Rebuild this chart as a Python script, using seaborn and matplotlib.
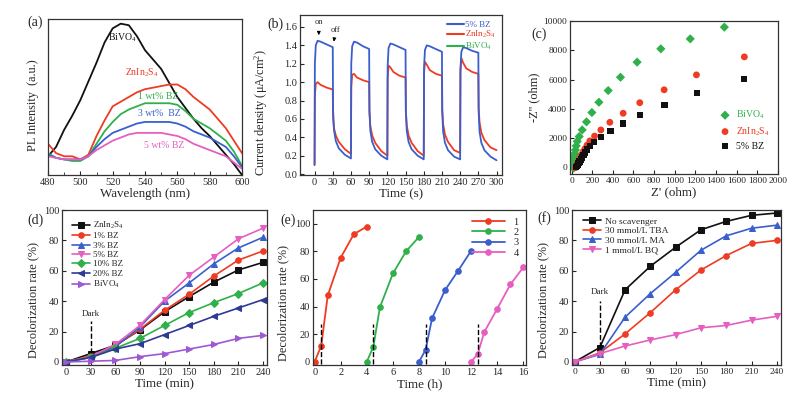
"""
plot.py
-------
Six-panel photocatalysis figure: PL spectra, photocurrent, EIS Nyquist,
decolorization kinetics, cycling runs and scavenger tests.
"""

import matplotlib
matplotlib.use("Agg")
import matplotlib.pyplot as plt
from matplotlib.lines import Line2D
import numpy as np
import pandas as pd
import seaborn as sns

W, H = 807, 398

# ---- (a) PL spectra -------------------------------------------------------
pl_wavelength = [480, 485, 490, 495, 500, 505, 510, 515, 520, 525, 530, 535, 540,
                 545, 550, 555, 560, 565, 570, 575, 580, 585, 590, 595, 600]
pl_bivo4 = [12, 18, 29, 38, 48, 60, 72, 85, 94, 97, 96, 89, 80,
            74, 68, 59, 50, 43, 36, 30, 25, 19, 13, 7, 0]
pl_znin2s4 = [20, 14, 12, 12, 10, 13, 25, 35, 44, 47, 50, 53, 55,
              56, 57, 58, 58, 55, 50, 46, 42, 36, 30, 22, 14]
pl_1bz = [14, 11, 10, 9, 9, 12, 20, 28, 34, 39, 42, 44, 46,
          46, 46, 46, 45, 41, 36, 33, 30, 26, 22, 15, 6]
pl_3bz = [13, 11, 10, 10, 10, 12, 18, 23, 27, 29, 31, 33, 34,
          34, 34, 34, 33, 31, 28, 26, 24, 21, 18, 12, 5]
pl_5bz = [12, 11, 10, 10, 10, 12, 16, 19, 22, 24, 26, 27, 27,
          27, 27, 26, 25, 23, 20, 18, 16, 14, 12, 8, 4]

# ---- (b) transient photocurrent ------------------------------------------
cycle_starts = [0, 60, 120, 180, 240]
cycle_offsets = [0, 0.5, 2, 5, 10, 20, 30, 30.5, 32, 35, 40, 50]
end_time = 300
current_5bz = [0.10, 1.20, 1.40, 1.45, 1.44, 1.41, 1.38, 0.70, 0.48, 0.36, 0.28, 0.21,
               0.17, 1.20, 1.39, 1.44, 1.43, 1.39, 1.36, 0.70, 0.47, 0.35, 0.27, 0.20,
               0.16, 1.18, 1.37, 1.42, 1.41, 1.38, 1.35, 0.69, 0.47, 0.35, 0.27, 0.20,
               0.16, 1.16, 1.35, 1.40, 1.39, 1.36, 1.33, 0.68, 0.46, 0.34, 0.26, 0.19,
               0.16, 1.14, 1.33, 1.38, 1.37, 1.34, 1.32, 0.68, 0.46, 0.34, 0.26, 0.19,
               0.15]
current_znin2s4 = [0.10, 0.85, 0.98, 1.00, 0.97, 0.94, 0.92, 0.62, 0.50, 0.42, 0.35, 0.27,
                   0.22, 0.95, 1.08, 1.09, 1.05, 1.02, 1.00, 0.66, 0.52, 0.42, 0.34, 0.25,
                   0.20, 1.05, 1.18, 1.16, 1.11, 1.07, 1.05, 0.68, 0.53, 0.42, 0.34, 0.25,
                   0.20, 1.10, 1.22, 1.19, 1.13, 1.09, 1.07, 0.70, 0.54, 0.43, 0.35, 0.26,
                   0.23, 1.12, 1.26, 1.21, 1.15, 1.11, 1.09, 0.72, 0.56, 0.45, 0.37, 0.29,
                   0.26]

# ---- (c) Nyquist plots ----------------------------------------------------
eis_bivo4_re = [1480, 1150, 865, 635, 474, 355, 265, 197, 145, 103, 74, 55, 45,
                38, 32, 28, 25, 22, 20, 19, 18, 20]
eis_bivo4_im = [9580, 8780, 8100, 7190, 6160, 5250, 4450, 3750, 3110, 2560, 2110, 1780,
                1470, 1190, 950, 750, 560, 400, 260, 140, 40, -50]
eis_znin2s4_re = [1674, 1210, 897, 661, 500, 371, 284, 223, 177, 150, 130, 113, 100,
                  88, 78, 68, 60, 53, 47, 42, 38]
eis_znin2s4_im = [7550, 6320, 5300, 4420, 3700, 3080, 2560, 2140, 1810, 1520, 1280,
                  1080, 900, 740, 590, 450, 330, 220, 120, 40, -20]
eis_5bz_re = [1668, 1216, 900, 661, 500, 377, 284, 219, 177, 150, 130, 115, 102, 90,
              78, 68, 60, 52, 46]
eis_5bz_im = [6020, 5070, 4270, 3590, 3000, 2500, 2090, 1750, 1470, 1230, 1020, 840,
              680, 540, 410, 300, 200, 110, 40]

# ---- (d) decolorization vs loading ---------------------------------------
time_min = [0, 30, 60, 90, 120, 150, 180, 210, 240]
decol_znin2s4 = [0, 5.5, 11, 21, 33, 43, 52.5, 60.5, 65.5]
decol_1bz = [0, 4, 10.5, 21.5, 34, 44.5, 56.5, 67, 73]
decol_3bz = [0, 3, 10, 23, 40, 52, 64.5, 75, 82]
decol_5bz = [0, 3.5, 11.5, 24, 41, 57, 69, 81, 88]
decol_10bz = [0, 3, 9, 15.5, 24, 32.5, 39, 45, 52]
decol_20bz = [0, 3, 8.5, 12, 18, 24, 30, 35.5, 41]
decol_bivo4 = [0, 0.5, 1, 3.5, 5.5, 8.5, 11.5, 15.5, 17.5]

# ---- (e) cycling runs ----------------------------------------------------
run_time_h = [[0, 0.5, 1, 2, 3, 4], [4, 4.5, 5, 6, 7, 8],
              [8, 8.5, 9, 10, 11, 12], [12, 12.5, 13, 14, 15, 16]]
run_decol = [[0, 11.5, 48, 75.5, 92.5, 98], [0, 11, 39.5, 64, 80, 90.5],
             [0, 8.5, 31.5, 52, 66, 80.5], [0, 5.5, 21.5, 38.5, 56, 68.5]]
run_labels = ["1", "2", "3", "4"]
light_on_h = [0.5, 4.5, 8.5, 12.5]

# ---- (f) scavengers -------------------------------------------------------
scav_none = [0, 9.5, 47.5, 63, 75.5, 87, 92.5, 96.5, 98]
scav_tba = [0, 6, 18.5, 32.5, 47.5, 60.5, 70, 78, 80]
scav_ma = [0, 5, 29.5, 45, 59, 73.5, 83, 88, 90]
scav_bq = [0, 5.5, 10.5, 14.5, 18, 22.5, 24, 27.5, 30]
dark_time = 30

BLACK = "#111111"
RED = "#ee3b24"
BLUE = "#3a5fcd"
GREEN = "#2fb04a"
PINK = "#e65fc0"
NAVY = "#2e3a96"
PURPLE = "#9d58d4"

sns.set_style("ticks")
plt.rcParams["font.family"] = ["Liberation Serif", "DejaVu Serif"]
plt.rcParams["mathtext.fontset"] = "stix"
plt.rcParams["xtick.direction"] = "in"
plt.rcParams["ytick.direction"] = "in"
plt.rcParams["axes.linewidth"] = 0.9

TICK_FS = 7.5
LABEL_FS = 8.8
ZIS = "ZnIn$\\mathregular{_2}$S$\\mathregular{_4}$"
BVO = "BiVO$\\mathregular{_4}$"


def add_axes(fig, left, top, right, bottom):
    return fig.add_axes([left / W, 1 - bottom / H, (right - left) / W, (bottom - top) / H])


def style(ax, xlabel, ylabel):
    ax.set_xlabel(xlabel, fontsize=LABEL_FS + 0.6, labelpad=1)
    ax.set_ylabel(ylabel, fontsize=LABEL_FS, labelpad=2)
    ax.tick_params(labelsize=TICK_FS, length=3, width=0.8, pad=2, top=False, right=False)
    for s in ax.spines.values():
        s.set_visible(True)
        s.set_color("#333333")


def color_legend(leg, colors):
    for txt, c in zip(leg.get_texts(), colors):
        txt.set_color(c)


fig = plt.figure(figsize=(W / 100, H / 100), dpi=100)

# (a)
ax = add_axes(fig, 48, 19, 242, 175)
for vals, c in [(pl_bivo4, BLACK), (pl_znin2s4, RED), (pl_1bz, GREEN), (pl_3bz, BLUE), (pl_5bz, PINK)]:
    sns.lineplot(x=pl_wavelength, y=vals, ax=ax, color=c, lw=1.3)
ax.set_xlim(480, 600)
ax.set_ylim(0, 100)
ax.set_xticks(range(480, 601, 20))
ax.set_xticks(range(480, 601, 10), minor=True)
ax.set_yticks([])
style(ax, "Wavelength (nm)", "PL Intensity  (a.u.)")
ax.yaxis.set_label_coords(-0.045, 0.45)
ax.text(526, 86, BVO, fontsize=7, color=BLACK, ha="center")
ax.text(538, 64, ZIS, fontsize=7, color=RED, ha="center")
ax.text(548, 48.5, "1 wt% BZ", fontsize=7, color=GREEN, ha="center")
ax.text(549, 38, "3 wt%  BZ", fontsize=7, color=BLUE, ha="center")
ax.text(552, 17.5, "5 wt% BZ", fontsize=7, color=PINK, ha="center")

# (b)
ax = add_axes(fig, 300, 15, 502, 175)
times = [s + o for s in cycle_starts for o in cycle_offsets] + [end_time]
pc = pd.DataFrame({"t": times, "bz": current_5bz, "zis": current_znin2s4})
sns.lineplot(data=pc, x="t", y="zis", ax=ax, color=RED, lw=1.3, sort=False, estimator=None)
sns.lineplot(data=pc, x="t", y="bz", ax=ax, color=BLUE, lw=1.3, sort=False, estimator=None)
ax.set_xlim(-24, 309)
ax.set_ylim(-0.01, 1.73)
ax.set_xticks(range(0, 301, 30))
ax.set_yticks(np.arange(0, 1.61, 0.2))
ax.yaxis.set_major_formatter(matplotlib.ticker.FormatStrFormatter("%.1f"))
style(ax, "Time (s)", "Current density (μA/cm$\\mathregular{^2}$)")
ax.yaxis.set_label_coords(-0.15, 0.39)
handles = [Line2D([], [], color=c, lw=1.5) for c in (BLUE, RED, GREEN)]
leg = ax.legend(handles, ["5% BZ", ZIS, BVO], loc="upper right", frameon=False,
                fontsize=6.5, handlelength=1.8, handletextpad=0.2, labelspacing=0.05,
                borderaxespad=0.2)
color_legend(leg, (BLUE, RED, GREEN))
ax.annotate("on", xy=(7, 1.48), xytext=(7, 1.63), fontsize=6, ha="center",
            arrowprops=dict(arrowstyle="-|>", color="k", lw=0.7, mutation_scale=5))
ax.annotate("off", xy=(31, 1.41), xytext=(35, 1.55), fontsize=6, ha="center",
            arrowprops=dict(arrowstyle="-|>", color="k", lw=0.7, mutation_scale=5))

# (c)
ax = add_axes(fig, 570, 21, 778, 174)
sns.scatterplot(x=eis_bivo4_re, y=eis_bivo4_im, ax=ax, color=GREEN, marker="D", s=22,
                edgecolor="none", label=BVO)
sns.scatterplot(x=eis_znin2s4_re, y=eis_znin2s4_im, ax=ax, color=RED, marker="o", s=24,
                edgecolor="none", label=ZIS)
sns.scatterplot(x=eis_5bz_re, y=eis_5bz_im, ax=ax, color=BLACK, marker="s", s=20,
                edgecolor="none", label="5% BZ")
ax.set_xlim(-15, 2000)
ax.set_ylim(-450, 10000)
ax.set_xticks(range(0, 2001, 200))
ax.set_yticks(range(0, 10001, 2000))
style(ax, "Z' (ohm)", "-Z'' (ohm)")
ax.tick_params(labelsize=6.8)
leg = ax.legend(loc="center right", bbox_to_anchor=(1.0, 0.29), frameon=False,
                fontsize=7, handletextpad=0.1, labelspacing=0.4, markerscale=1.0)
color_legend(leg, (GREEN, RED, BLACK))

# (d)
ax = add_axes(fig, 62, 210, 267, 365)
series_d = [(decol_znin2s4, BLACK, "s", ZIS), (decol_1bz, RED, "o", "1% BZ"),
            (decol_3bz, BLUE, "^", "3% BZ"), (decol_5bz, PINK, "v", "5% BZ"),
            (decol_10bz, GREEN, "D", "10% BZ"), (decol_20bz, NAVY, "<", "20% BZ"),
            (decol_bivo4, PURPLE, ">", BVO)]
for vals, c, m, lab in series_d:
    sns.lineplot(x=time_min, y=vals, ax=ax, color=c, marker=m, markersize=4,
                 markeredgecolor=c, lw=1.2, label=lab)
ax.vlines(dark_time, 6, 27, colors="k", linestyles="--", lw=1)
ax.text(dark_time, 30, "Dark", fontsize=6.5, ha="center")
ax.set_xlim(-5, 245)
ax.set_ylim(-2, 100)
ax.set_xticks(range(0, 241, 30))
ax.set_yticks(range(0, 101, 20))
style(ax, "Time (min)", "Decolorization rate (%)")
ax.yaxis.set_label_coords(-0.11, 0.42)
ax.legend(loc="upper left", bbox_to_anchor=(0.01, 0.99), frameon=False, fontsize=6.5,
          handlelength=2.0, handletextpad=0.3, labelspacing=0.12)

# (e)
ax = add_axes(fig, 313, 210, 526, 365)
for xs, ys, c, lab in zip(run_time_h, run_decol, (RED, GREEN, BLUE, PINK), run_labels):
    sns.lineplot(x=xs, y=ys, ax=ax, color=c, marker="o", markersize=4,
                 markeredgecolor=c, lw=1.3, label=lab)
ax.vlines(light_on_h, -2, 27, colors="k", linestyles="--", lw=1)
ax.set_xlim(-0.13, 16.2)
ax.set_ylim(-2.4, 110)
ax.set_xticks(range(0, 17, 2))
ax.set_yticks(range(0, 101, 20))
style(ax, "Time (h)", "Decolorization rate (%)")
ax.yaxis.set_label_coords(-0.11, 0.40)
ax.legend(loc="upper right", frameon=False, fontsize=7.5, handlelength=3.2,
          handletextpad=0.8, labelspacing=0.1, borderaxespad=0.3)

# (f)
ax = add_axes(fig, 572, 210, 781, 365)
series_f = [(scav_none, BLACK, "s", "No scavenger"), (scav_tba, RED, "o", "30 mmol/L TBA"),
            (scav_ma, BLUE, "^", "30 mmol/L MA"), (scav_bq, PINK, "v", "1 mmol/L BQ")]
for vals, c, m, lab in series_f:
    sns.lineplot(x=time_min, y=vals, ax=ax, color=c, marker=m, markersize=4,
                 markeredgecolor=c, lw=1.2, label=lab)
ax.vlines(dark_time, 10, 40, colors="k", linestyles="--", lw=1)
ax.text(dark_time, 45, "Dark", fontsize=6.5, ha="center")
ax.set_xlim(-3, 245)
ax.set_ylim(-2, 100)
ax.set_xticks(range(0, 241, 30))
ax.set_yticks(range(0, 101, 20))
style(ax, "Time (min)", "Decolorization rate (%)")
ax.yaxis.set_label_coords(-0.11, 0.42)
ax.tick_params(axis="x", labelsize=6.8)
ax.legend(loc="upper left", bbox_to_anchor=(0.01, 1.01), frameon=False, fontsize=6.8,
          handlelength=2.0, handletextpad=0.4, labelspacing=0.1)

for lab, x, y in [("(a)", 27, 22), ("(b)", 267, 24), ("(c)", 531, 34),
                  ("(d)", 27, 220), ("(e)", 280, 220), ("(f)", 537, 218)]:
    fig.text(x / W, 1 - y / H, lab, fontsize=10, va="center", ha="left")

fig.savefig("out.png", dpi=100)
